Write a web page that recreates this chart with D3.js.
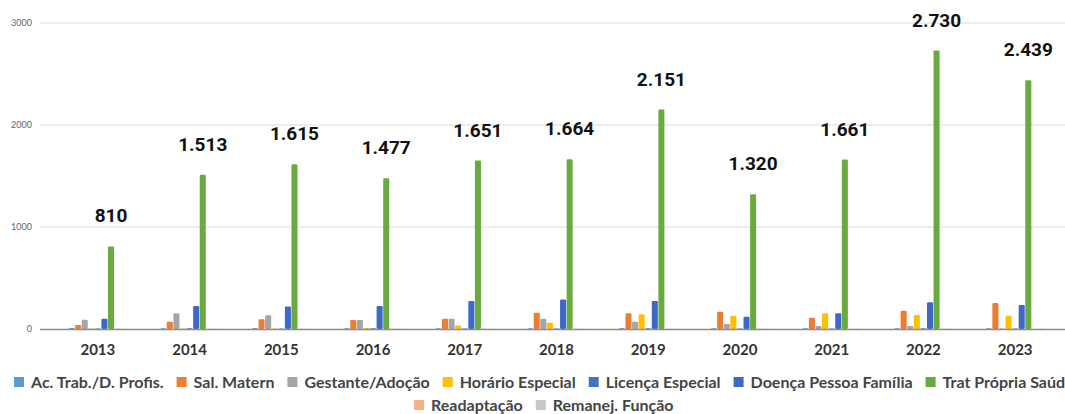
<!DOCTYPE html>
<html><head><meta charset="utf-8">
<script src="https://cdn.jsdelivr.net/npm/d3@7"></script>
<style>html,body{margin:0;padding:0;background:#fff;overflow:hidden}</style>
</head><body>
<svg id="chart" width="1065" height="414"></svg>
<script>
const years = ['2013','2014','2015','2016','2017','2018','2019','2020','2021','2022','2023'];
const seriesNames = ['Ac. Trab./D. Profis.','Sal. Matern','Gestante/Adoção','Horário Especial','Licença Especial','Doença Pessoa Família','Trat Própria Saúde','Readaptação','Remanej. Função'];
const seriesColors = ['#5b9bd5','#ed7d31','#a5a5a5','#ffc000','#4472c4','#3e68c8','#6aab3f','#f4b183','#c8c8c8'];
const acTrab    = [10,8,9,8,7,8,9,8,7,8,8];
const salMatern = [40,72,95,88,100,160,155,170,110,180,255];
const gestante  = [90,155,135,88,100,100,72,50,30,30,5];
const horario   = [5,5,5,10,35,62,145,130,155,138,130];
const licenca   = [6,7,6,7,6,6,7,6,6,7,6];
const doenca    = [100,225,220,225,275,290,275,120,155,262,235];
const tratSaude = [810,1513,1615,1477,1651,1664,2151,1320,1661,2730,2439];
const readapt   = [3,3,3,3,3,3,3,3,3,3,3];
const remanej   = [3,3,3,3,3,3,3,3,3,3,3];
const yTicks = [0,1000,2000,3000];

const seriesValues = [acTrab,salMatern,gestante,horario,licenca,doenca,tratSaude,readapt,remanej];
const svg = d3.select('#chart');
const W = 1065;

const x0 = d3.scaleBand().domain(years).range([52,1061]).paddingInner(0.36).paddingOuter(0.18);
const x1 = d3.scaleBand().domain(d3.range(seriesNames.length)).range([0,x0.bandwidth()]).paddingInner(0.08);
const y = d3.scaleLinear().domain([0,3000]).range([329,23]);

// grid
svg.append('g').selectAll('line').data(yTicks.filter(d=>d>0)).join('line')
  .attr('x1',40).attr('x2',W).attr('y1',d=>y(d)).attr('y2',d=>y(d))
  .attr('stroke','#dcdcdc').attr('stroke-width',1.2);

// y axis labels
const yAxis = d3.axisLeft(y).tickValues(yTicks).tickSize(0).tickPadding(0).tickFormat(d3.format('d'));
const yg = svg.append('g').attr('transform','translate(32,0)').call(yAxis);
yg.select('.domain').remove();
yg.selectAll('text').attr('font-family','Lato, sans-serif').attr('font-size',9).attr('fill','#666');

// bars
const groups = svg.append('g').selectAll('g').data(years).join('g')
  .attr('transform',d=>`translate(${x0(d)},0)`);
groups.selectAll('rect').data((d,i)=>seriesValues.map((arr,s)=>({s,v:arr[i]}))).join('rect')
  .attr('x',d=>x1(d.s)).attr('width',x1.bandwidth())
  .attr('y',d=>y(d.v)).attr('height',d=>y(0)-y(d.v))
  .attr('rx',1.2)
  .attr('fill',d=>seriesColors[d.s]);

// baseline
svg.append('line').attr('x1',40).attr('x2',W).attr('y1',y(0)+0.5).attr('y2',y(0)+0.5)
  .attr('stroke','#8c8c8c').attr('stroke-width',1.5);

// x axis labels
const xAxis = d3.axisBottom(x0).tickSize(0).tickPadding(0);
const xg = svg.append('g').attr('transform','translate(0,344)').call(xAxis);
xg.select('.domain').remove();
xg.selectAll('text').attr('font-family','Lato, sans-serif').attr('font-weight','bold')
  .attr('font-size',15).attr('fill','#333');

// value labels
const loc = d3.formatLocale({decimal:',',thousands:'.',grouping:[3],currency:['R$','']});
const fmt = loc.format(',d');
svg.append('g').selectAll('text').data(years).join('text')
  .attr('x',(d,i)=>x0(d)+x1(6)+x1.bandwidth()/2)
  .attr('y',(d,i)=>y(tratSaude[i])-24)
  .attr('text-anchor','middle')
  .attr('font-family','Roboto, sans-serif').attr('font-weight','bold')
  .attr('font-size',19).attr('fill','#111')
  .text((d,i)=>fmt(tratSaude[i]));

// legend
const leg = svg.append('g');
const rows = [[0,1,2,3,4,5,6],[7,8]];
const rowY = [382,405];
const fs = 16, sq = 10, gap1 = 7, gap2 = 13;
function measure(t){
  const tmp = svg.append('text').attr('font-family','Lato, sans-serif').attr('font-weight','bold').attr('font-size',fs).text(t);
  const w = tmp.node().getComputedTextLength(); tmp.remove(); return w;
}
const widths = seriesNames.map(n=>sq+gap1+measure(n));
const rowW = rows.map(r=>d3.sum(r,i=>widths[i]) + gap2*(r.length-1));
const center = 14 + rowW[0]/2;
rows.forEach((r,ri)=>{
  let xx = ri===0 ? 14 : center - rowW[ri]/2;
  r.forEach(i=>{
    leg.append('rect').attr('x',xx).attr('y',rowY[ri]-sq/2).attr('width',sq).attr('height',sq).attr('fill',seriesColors[i]);
    leg.append('text').attr('x',xx+sq+gap1).attr('y',rowY[ri]+5.5)
      .attr('font-family','Lato, sans-serif').attr('font-weight','bold').attr('font-size',fs)
      .attr('fill','#444').text(seriesNames[i]);
    xx += widths[i]+gap2;
  });
});
</script>
</body></html>
